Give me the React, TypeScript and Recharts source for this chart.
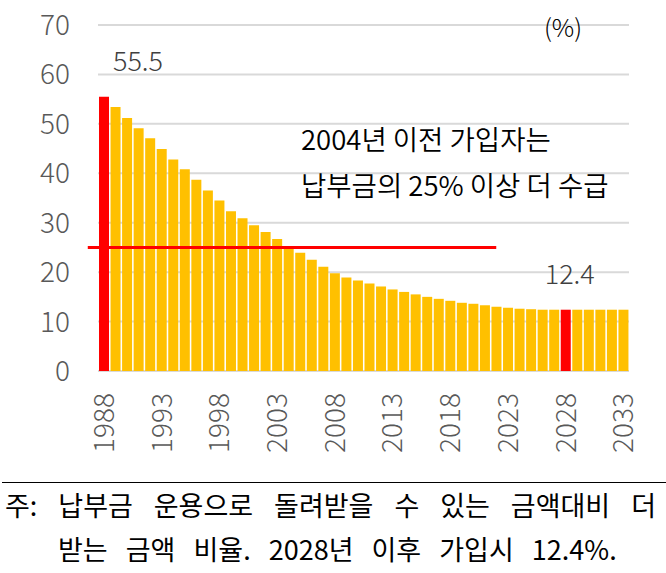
import React from 'react';
import {
  BarChart,
  Bar,
  XAxis,
  YAxis,
  CartesianGrid,
  Cell,
  LabelList,
  ReferenceLine,
} from 'recharts';

const years = [
  '1988', '1989', '1990', '1991', '1992', '1993', '1994', '1995', '1996', '1997',
  '1998', '1999', '2000', '2001', '2002', '2003', '2004', '2005', '2006', '2007',
  '2008', '2009', '2010', '2011', '2012', '2013', '2014', '2015', '2016', '2017',
  '2018', '2019', '2020', '2021', '2022', '2023', '2024', '2025', '2026', '2027',
  '2028', '2029', '2030', '2031', '2032', '2033',
];

// 추가 수급 비율 (%)
const ratios = [
  55.5, 53.4, 51.2, 49.1, 47.1, 44.9, 42.8, 40.8, 38.7, 36.5,
  34.5, 32.3, 30.9, 29.5, 28.1, 26.7, 25.3, 23.9, 22.5, 21.1,
  19.8, 18.9, 18.3, 17.7, 17.1, 16.5, 16.0, 15.5, 15.0, 14.6,
  14.2, 13.8, 13.6, 13.3, 13.0, 12.8, 12.6, 12.5, 12.4, 12.4,
  12.4, 12.4, 12.4, 12.4, 12.4, 12.4,
];

const highlightYears = ['1988', '2028'];
const labeledYears = ['1988', '2028'];
const yTicks = [0, 10, 20, 30, 40, 50, 60, 70];
const thresholdValue = 25;
const thresholdRange = ['1988', '2022'];

const data = years.map((year, i) => ({ year, ratio: ratios[i] }));

const FONT = '"Noto Sans CJK KR", "Noto Sans", sans-serif';
const LIGHT = 300;
const YELLOW = '#FFC000';
const RED = '#FF0000';
const TICK_GRAY = '#595959';

const YearTick = (props: any) => {
  const { x, y, payload } = props;
  return (
    <text
      x={x}
      y={y}
      transform={`rotate(-90 ${x} ${y})`}
      textAnchor="end"
      dy="0.36em"
      fill={TICK_GRAY}
      fontSize={28}
      fontWeight={LIGHT}
      fontFamily={FONT}
    >
      {payload.value}
    </text>
  );
};

const renderValueLabel = (props: any) => {
  const { x, y, width, value, index } = props;
  if (!labeledYears.includes(years[index])) return null;
  // first label sits off to the right of the tall bar
  const dx = index === 0 ? 34 : 4;
  return (
    <text
      x={x + width / 2 + dx}
      y={y - 26}
      textAnchor="middle"
      fill="#404040"
      fontSize={27}
      fontWeight={LIGHT}
      fontFamily={FONT}
    >
      {value}
    </text>
  );
};

const ThresholdLine = (p: any) => (
  <line x1={p.x1 - 16} y1={p.y1} x2={p.x2} y2={p.y2} stroke={RED} strokeWidth={3} />
);

export default function App() {
  return (
    <div
      style={{
        position: 'absolute',
        left: 0,
        top: 0,
        width: 666,
        height: 573,
        background: '#fff',
        fontFamily: FONT,
        overflow: 'hidden',
      }}
    >
      <BarChart
        width={666}
        height={461}
        data={data}
        margin={{ top: 25, right: 37, bottom: 0, left: 8 }}
        barSize={10}
      >
        <CartesianGrid vertical={false} stroke="#D9D9D9" strokeWidth={2} />
        <XAxis
          dataKey="year"
          interval={4}
          axisLine={false}
          tickLine={false}
          tickSize={0}
          tickMargin={22}
          height={90}
          tick={<YearTick />}
        />
        <YAxis
          domain={[0, 70]}
          ticks={yTicks}
          width={90}
          axisLine={false}
          tickLine={false}
          tickSize={0}
          tickMargin={28}
          tick={{ fill: TICK_GRAY, fontSize: 28, fontWeight: LIGHT, fontFamily: FONT }}
        />
        <Bar dataKey="ratio" isAnimationActive={false}>
          {data.map((d) => (
            <Cell key={d.year} fill={highlightYears.includes(d.year) ? RED : YELLOW} />
          ))}
          <LabelList dataKey="ratio" content={renderValueLabel} />
        </Bar>
        <ReferenceLine
          segment={[
            { x: thresholdRange[0], y: thresholdValue },
            { x: thresholdRange[1], y: thresholdValue },
          ]}
          stroke={RED}
          strokeWidth={3}
          shape={ThresholdLine}
        />
      </BarChart>

      <svg
        width={666}
        height={573}
        style={{ position: 'absolute', left: 0, top: 0, pointerEvents: 'none' }}
      >
        <text x={563} y={37} textAnchor="middle" fontSize={25} fill="#000" fontWeight={LIGHT} fontFamily={FONT}>
          (%)
        </text>
        <text x={301} y={150} fontSize={27.5} fill="#000" fontWeight={350} fontFamily={FONT}>
          2004년 이전 가입자는
        </text>
        <text x={301} y={196} fontSize={27.5} fill="#000" fontWeight={350} fontFamily={FONT}>
          납부금의 25% 이상 더 수급
        </text>
      </svg>

      <div
        style={{
          position: 'absolute',
          left: 2,
          top: 482,
          width: 664,
          borderTop: '1.5px solid #000',
        }}
      />
      <div
        style={{
          position: 'absolute',
          left: 5,
          top: 487,
          width: 651,
          fontSize: 27,
          lineHeight: '36px',
          color: '#000',
          textAlign: 'justify',
          textAlignLast: 'justify',
          whiteSpace: 'nowrap',
        }}
      >
        주: 납부금 운용으로 돌려받을 수 있는 금액대비 더
      </div>
      <div
        style={{
          position: 'absolute',
          left: 58,
          top: 531,
          fontSize: 27,
          lineHeight: '36px',
          color: '#000',
          whiteSpace: 'nowrap',
          wordSpacing: 12,
        }}
      >
        받는 금액 비율. 2028년 이후 가입시 12.4%.
      </div>
    </div>
  );
}
